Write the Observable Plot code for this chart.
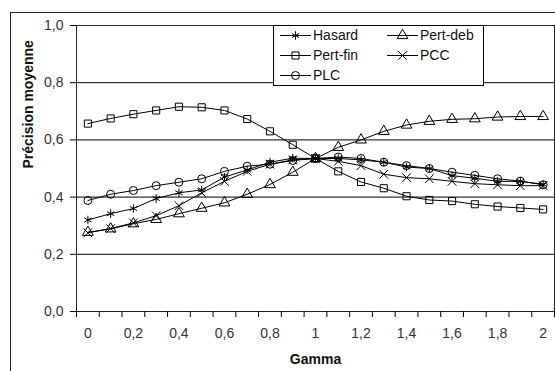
<!DOCTYPE html>
<html>
<head>
<meta charset="utf-8">
<script src="https://cdn.jsdelivr.net/npm/d3@7"></script>
<script src="https://cdn.jsdelivr.net/npm/@observablehq/plot@0.6"></script>
<style>
  html, body { margin: 0; padding: 0; background: #fff; }
  #wrap { position: relative; width: 555px; height: 371px; overflow: hidden; font-family: "Liberation Sans", Arial, sans-serif; }
  #border { position: absolute; left: 10px; top: 12px; width: 700px; height: 500px; border: 1px solid #222; }
  #chart { position: absolute; left: 0; top: 0; }
</style>
</head>
<body>
<div id="wrap"><div id="border"></div><div id="chart"></div></div>
<script>
// ---- data ----
const gamma = [0, 0.1, 0.2, 0.3, 0.4, 0.5, 0.6, 0.7, 0.8, 0.9, 1, 1.1, 1.2, 1.3, 1.4, 1.5, 1.6, 1.7, 1.8, 1.9, 2];
const hasard  = [0.320, 0.342, 0.360, 0.395, 0.415, 0.425, 0.470, 0.495, 0.522, 0.536, 0.535, 0.535, 0.530, 0.522, 0.505, 0.500, 0.475, 0.466, 0.455, 0.455, 0.445];
const pertFin = [0.657, 0.675, 0.690, 0.703, 0.716, 0.714, 0.703, 0.673, 0.630, 0.583, 0.535, 0.490, 0.453, 0.431, 0.403, 0.390, 0.386, 0.375, 0.367, 0.362, 0.357];
const plc     = [0.388, 0.410, 0.423, 0.440, 0.452, 0.464, 0.490, 0.508, 0.515, 0.528, 0.535, 0.540, 0.535, 0.522, 0.510, 0.500, 0.487, 0.476, 0.464, 0.456, 0.443];
const pertDeb = [0.277, 0.289, 0.307, 0.322, 0.342, 0.361, 0.380, 0.410, 0.444, 0.487, 0.535, 0.574, 0.600, 0.630, 0.652, 0.665, 0.672, 0.674, 0.680, 0.682, 0.682];
const pcc     = [0.275, 0.290, 0.310, 0.335, 0.370, 0.415, 0.455, 0.490, 0.515, 0.530, 0.535, 0.525, 0.510, 0.480, 0.468, 0.464, 0.455, 0.447, 0.443, 0.440, 0.440];
const seriesNames = ["Hasard", "Pert-fin", "PLC", "Pert-deb", "PCC"];
const seriesValues = [hasard, pertFin, plc, pertDeb, pcc];
const seriesSymbols = ["asterisk", "square", "circle", "triangle", "times"];
const xTickLabels = [0, 0.2, 0.4, 0.6, 0.8, 1, 1.2, 1.4, 1.6, 1.8, 2];
const yTicks = [0, 0.2, 0.4, 0.6, 0.8, 1];
const xTitle = "Gamma";
const yTitle = "Précision moyenne";

// ---- table ----
const rows = [];
seriesNames.forEach((name, s) => {
  gamma.forEach((g, i) => rows.push({series: name, gamma: g, value: seriesValues[s][i], symbol: seriesSymbols[s]}));
});
const step = 0.1;
const boundaries = [...gamma.map(g => g - step / 2), gamma[gamma.length - 1] + step / 2];
const comma = d => String(d).replace(".", ",");
const font = "Liberation Sans, Arial, sans-serif";
const R = 4;

const chart = Plot.plot({
  width: 555,
  height: 371,
  marginLeft: 76,
  marginRight: 1,
  marginTop: 25,
  marginBottom: 60,
  style: {background: "transparent", fontFamily: font, overflow: "visible"},
  x: {type: "linear", domain: [gamma[0] - step / 2, gamma[gamma.length - 1] + step / 2]},
  y: {domain: [0, 1]},
  symbol: {domain: seriesSymbols, range: seriesSymbols},
  marks: [
    Plot.gridY(yTicks, {stroke: "#000", strokeOpacity: 1, strokeWidth: 1}),
    Plot.frame({stroke: "#222", strokeWidth: 1}),
    Plot.axisY(yTicks, {tickSize: 6, tickPadding: 7, tickFormat: d => d3.format(".1f")(d).replace(".", ","), fontSize: 14, fill: "#333", stroke: "#000", label: null}),
    Plot.axisX(boundaries, {tickSize: 6, tickFormat: () => "", stroke: "#000", label: null}),
    Plot.axisX(xTickLabels, {tickSize: 0, tickPadding: 17, tickFormat: comma, fontSize: 14, fill: "#333", label: null}),
    ...seriesNames.map(name => Plot.line(rows.filter(r => r.series === name), {x: "gamma", y: "value", stroke: "#000", strokeWidth: 1})),
    Plot.dot(rows, {x: "gamma", y: "value", symbol: "symbol", r: R, stroke: "#000", strokeWidth: 1, fill: "none"}),
    Plot.text([xTitle], {frameAnchor: "bottom", dy: 48, text: d => d, fontSize: 14, fontWeight: "bold", fill: "#111", lineAnchor: "middle"}),
    Plot.text([yTitle], {frameAnchor: "left", dx: -48, rotate: -90, text: d => d, fontSize: 14, fontWeight: "bold", fill: "#111", lineAnchor: "middle"})
  ]
});
document.getElementById("chart").appendChild(chart);

// ---- legend (inside the plot area) ----
const svg = d3.select(chart);
const lg = svg.append("g").attr("font-family", font).attr("font-size", 14).attr("text-anchor", "start");
lg.append("rect").attr("x", 273.5).attr("y", 25.5).attr("width", 210).attr("height", 60)
  .attr("fill", "#fff").attr("stroke", "#000");
const symMap = {asterisk: d3.symbolAsterisk, square: d3.symbolSquare, circle: d3.symbolCircle, triangle: d3.symbolTriangle, times: d3.symbolTimes};
const legendOrder = [0, 3, 1, 4, 2]; // Hasard, Pert-deb, Pert-fin, PCC, PLC (row-major, 2 columns)
legendOrder.forEach((s, k) => {
  const col = k % 2, row = Math.floor(k / 2);
  const x0 = col === 0 ? 280 : 387;
  const y0 = 35.5 + row * 20;
  const g = lg.append("g").attr("transform", `translate(${x0},${y0})`);
  g.append("line").attr("x1", 0).attr("x2", 31).attr("y1", 0).attr("y2", 0).attr("stroke", "#000");
  g.append("path").attr("transform", "translate(15.5,0)")
    .attr("d", d3.symbol(symMap[seriesSymbols[s]], Math.PI * R * R)())
    .attr("fill", "none").attr("stroke", "#000");
  g.append("text").attr("x", 33).attr("y", 0).attr("dy", "0.35em").attr("fill", "#111").attr("text-anchor", "start").text(seriesNames[s]);
});
</script>
</body>
</html>
